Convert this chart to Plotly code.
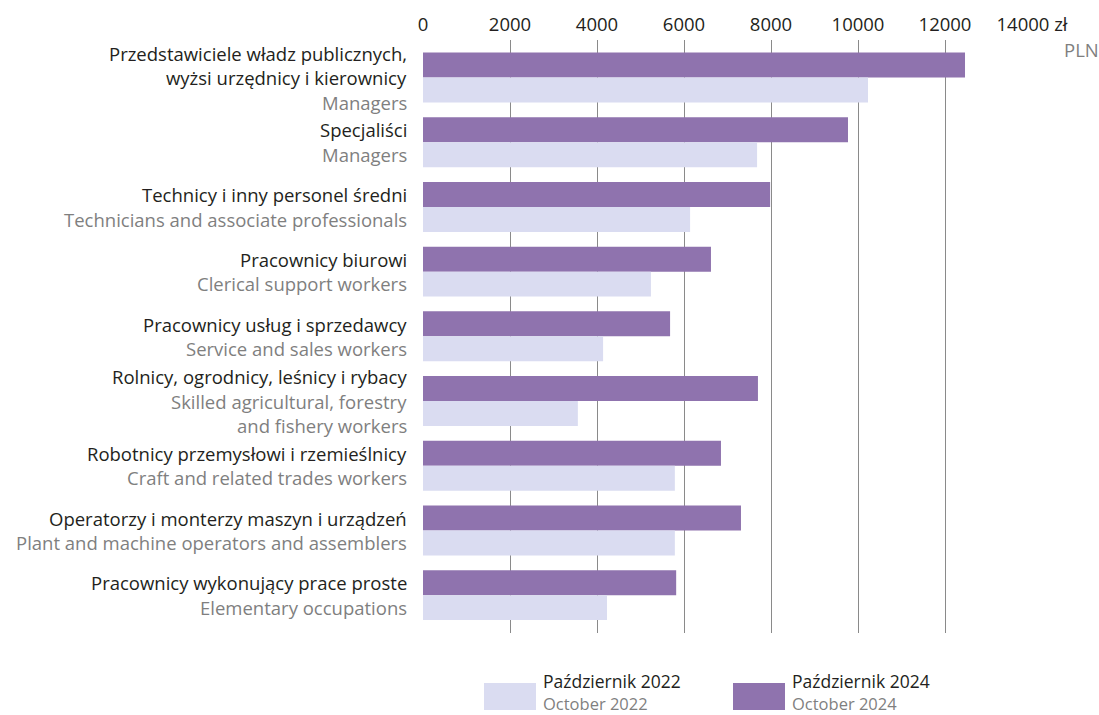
"""Average gross wages by occupational group, Oct 2022 vs Oct 2024."""

import plotly.graph_objects as go

FONT = "Open Sans"
DARK = "#231f20"
GREY = "#7f7f7f"
COLOUR_2022 = "#dadcf1"
COLOUR_2024 = "#8f73ae"

LABELS_PL = [
    ["Przedstawiciele władz publicznych,", "wyżsi urzędnicy i kierownicy"],
    ["Specjaliści"],
    ["Technicy i inny personel średni"],
    ["Pracownicy biurowi"],
    ["Pracownicy usług i sprzedawcy"],
    ["Rolnicy, ogrodnicy, leśnicy i rybacy"],
    ["Robotnicy przemysłowi i rzemieślnicy"],
    ["Operatorzy i monterzy maszyn i urządzeń"],
    ["Pracownicy wykonujący prace proste"],
]
LABELS_EN = [
    ["Managers"],
    ["Managers"],
    ["Technicians and associate professionals"],
    ["Clerical support workers"],
    ["Service and sales workers"],
    ["Skilled agricultural, forestry", "and fishery workers"],
    ["Craft and related trades workers"],
    ["Plant and machine operators and assemblers"],
    ["Elementary occupations"],
]
WAGES_2022 = [10230, 7680, 6140, 5240, 4140, 3560, 5790, 5790, 4230]
WAGES_2024 = [12460, 9770, 7980, 6620, 5680, 7700, 6850, 7310, 5820]

TICK_VALS = [0, 2000, 4000, 6000, 8000, 10000, 12000, 14000]
TICK_TEXT = ["0", "2000", "4000", "6000", "8000", "10000", "12000", "14000 zł"]

LEGEND_PL = ["Październik 2022", "Październik 2024"]
LEGEND_EN = ["October 2022", "October 2024"]

BAR_W = 0.386
LINE_PX = 24.5
FS = 18.5
LEGEND_FS = 16.5

pos = list(range(len(WAGES_2022)))

fig = go.Figure()
fig.add_trace(
    go.Bar(
        x=WAGES_2024,
        y=pos,
        orientation="h",
        width=BAR_W,
        offset=-BAR_W,
        marker=dict(color=COLOUR_2024, line=dict(width=0)),
        name=LEGEND_EN[1],
    )
)
fig.add_trace(
    go.Bar(
        x=WAGES_2022,
        y=pos,
        orientation="h",
        width=BAR_W,
        offset=0,
        marker=dict(color=COLOUR_2022, line=dict(width=0)),
        name=LEGEND_EN[0],
    )
)

# category labels: Polish in dark, English in grey, centred on each group
for i, (pl, en) in enumerate(zip(LABELS_PL, LABELS_EN)):
    lines = [(t, DARK) for t in pl] + [(t, GREY) for t in en]
    n = len(lines)
    for k, (txt, col) in enumerate(lines):
        fig.add_annotation(
            x=0,
            y=i,
            xref="paper",
            yref="y",
            text=txt,
            showarrow=False,
            xanchor="right",
            yanchor="middle",
            xshift=-14,
            yshift=-(k - (n - 1) / 2) * LINE_PX,
            font=dict(family=FONT, size=FS, color=col),
        )

fig.add_annotation(
    x=1.0, y=1.0, xref="paper", yref="paper",
    text="PLN", showarrow=False, xanchor="left", yanchor="middle",
    xshift=30, yshift=-9,
    font=dict(family=FONT, size=FS, color=GREY),
)

# custom legend at the bottom
legend_items = [(COLOUR_2022, 484), (COLOUR_2024, 733)]
for (col, x0), pl, en in zip(legend_items, LEGEND_PL, LEGEND_EN):
    fig.add_shape(
        type="rect", xref="paper", yref="paper",
        x0=(x0 - 423) / 609, x1=(x0 + 52 - 423) / 609,
        y0=-(710 - 633) / 593, y1=-(683 - 633) / 593,
        fillcolor=col, line=dict(width=0),
    )
    fig.add_annotation(
        x=(x0 + 57 - 423) / 609, y=-(681 - 633) / 593, xref="paper", yref="paper",
        text=pl, showarrow=False, xanchor="left", yanchor="middle",
        font=dict(family=FONT, size=LEGEND_FS + 1, color=DARK),
    )
    fig.add_annotation(
        x=(x0 + 57 - 423) / 609, y=-(703.5 - 633) / 593, xref="paper", yref="paper",
        text=en, showarrow=False, xanchor="left", yanchor="middle",
        font=dict(family=FONT, size=LEGEND_FS, color=GREY),
    )

fig.update_layout(
    barmode="overlay",
    showlegend=False,
    plot_bgcolor="white",
    paper_bgcolor="white",
    width=1099,
    height=715,
    margin=dict(l=423, r=67, t=40, b=82),
    font=dict(family=FONT, size=FS, color=DARK),
    xaxis=dict(
        side="top",
        range=[0, 14000],
        tickvals=TICK_VALS,
        ticktext=TICK_TEXT,
        showgrid=True,
        gridcolor="#8a8a8a",
        gridwidth=1,
        zeroline=False,
        showline=False,
        ticks="",
        ticklabelstandoff=4,
        tickfont=dict(family=FONT, size=FS, color=DARK),
    ),
    yaxis=dict(
        range=[8.585, -0.58],
        showticklabels=False,
        showgrid=False,
        zeroline=False,
        showline=False,
    ),
)

fig.write_html(
    "out.html",
    config={"displayModeBar": False},
    post_script="document.body.style.margin='0';document.body.style.overflow='hidden';",
)
